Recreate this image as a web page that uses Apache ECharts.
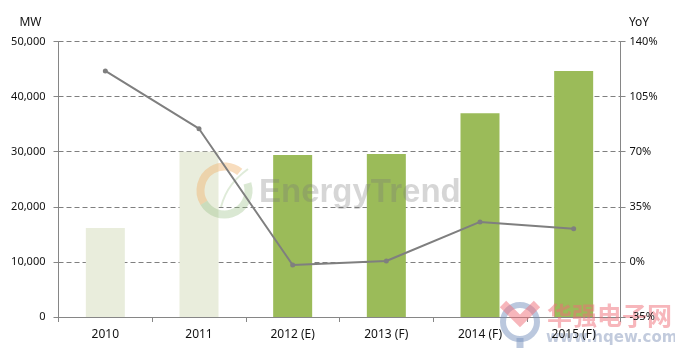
<!DOCTYPE html>
<html lang="en">
<head>
    <meta charset="utf-8">
    <title>EnergyTrend MW YoY</title>
    <script src="https://cdn.jsdelivr.net/npm/echarts@6/dist/echarts.min.js"></script>
    <style type="text/css">
        html, body { height: 100%; }
        body { margin: 0; background: #fff; }
    </style>
</head>
<body>
    <div id="main" style="width:675px;height:353px;"></div>
    <script type="text/javascript">
        const categories = ['2010', '2011', '2012 (E)', '2013 (F)', '2014 (F)', '2015 (F)'];
        const capacityMW = [16150, 30000, 29400, 29600, 37000, 44650];
        const yoyPercent = [121.3, 84.6, -2, 0.6, 25.4, 21];
        const paleYears = ['2010', '2011'];
        const leftTicks = [0, 10000, 20000, 30000, 40000, 50000];
        const rightTicks = [-35, 0, 35, 70, 105, 140];

        const fontFamily = '"Noto Sans", sans-serif';
        const axisGrey = '#868686';

        const myChart = echarts.init(document.getElementById('main'));

        const option = {
            animation: false,
            backgroundColor: '#fff',
            textStyle: { fontFamily: fontFamily },
            grid: { left: 58.5, right: 54.5, top: 41.5, bottom: 36 },
            xAxis: [
                {
                    type: 'category',
                    data: categories,
                    boundaryGap: true,
                    axisLine: { lineStyle: { color: axisGrey, width: 1 } },
                    axisTick: { show: true, alignWithLabel: false, length: 5, lineStyle: { color: axisGrey } },
                    axisLabel: { show: false }
                },
                // labels only, so they sit above the watermark
                {
                    type: 'category',
                    position: 'bottom',
                    data: categories,
                    z: 7,
                    axisLine: { show: false },
                    axisTick: { show: false },
                    axisLabel: { color: '#111', fontSize: 12, margin: 12, interval: 0 }
                }
            ],
            yAxis: [
                {
                    type: 'value',
                    min: 0,
                    max: 50000,
                    interval: 10000,
                    name: 'MW',
                    nameLocation: 'end',
                    nameGap: 13,
                    nameTextStyle: { color: '#111', fontSize: 12, padding: [0, 56, 0, 0] },
                    axisLine: { show: true, onZero: false, lineStyle: { color: axisGrey } },
                    axisTick: { show: true, length: 5, lineStyle: { color: axisGrey } },
                    axisLabel: {
                        color: '#111',
                        fontSize: 11,
                        margin: 13,
                        formatter: function (v) { return leftTicks.includes(v) ? v.toLocaleString('en-US') : ''; }
                    },
                    splitLine: { show: true, lineStyle: { color: '#7f7f7f', type: [5, 3], width: 1 } }
                },
                {
                    type: 'value',
                    min: -35,
                    max: 140,
                    interval: 35,
                    z: 7,
                    name: 'YoY',
                    nameLocation: 'end',
                    nameGap: 13,
                    nameTextStyle: { color: '#111', fontSize: 12, padding: [0, 0, 0, 37] },
                    axisLine: { show: true, onZero: false, lineStyle: { color: axisGrey } },
                    axisTick: { show: true, length: 5, lineStyle: { color: axisGrey } },
                    axisLabel: {
                        color: '#111',
                        fontSize: 11,
                        margin: 9,
                        formatter: function (v) { return rightTicks.includes(v) ? v + '%' : ''; }
                    },
                    splitLine: { show: false }
                }
            ],
            series: [
                {
                    name: 'MW',
                    type: 'bar',
                    xAxisIndex: 0,
                    yAxisIndex: 0,
                    barWidth: 39,
                    z: 3,
                    data: capacityMW.map(function (v, i) {
                        return {
                            value: v,
                            itemStyle: { color: paleYears.includes(categories[i]) ? '#e9eddc' : '#9bbb59' }
                        };
                    })
                },
                {
                    name: 'YoY',
                    type: 'line',
                    xAxisIndex: 0,
                    yAxisIndex: 1,
                    z: 5,
                    symbol: 'circle',
                    symbolSize: 5,
                    lineStyle: { color: '#7f7f7f', width: 2 },
                    itemStyle: { color: '#7f7f7f' },
                    data: yoyPercent
                }
            ],
            graphic: [
                // EnergyTrend watermark
                { type: 'arc', z: 4, shape: { cx: 224.5, cy: 190.5, r: 24, startAngle: 2.6, endAngle: 5.4 }, style: { stroke: 'rgba(240,180,110,0.45)', lineWidth: 8, fill: null } },
                { type: 'arc', z: 4, shape: { cx: 224.5, cy: 190.5, r: 24, startAngle: -0.3, endAngle: 2.6 }, style: { stroke: 'rgba(150,190,130,0.35)', lineWidth: 8, fill: null } },
                { type: 'bezierCurve', z: 4, shape: { x1: 221, y1: 207, x2: 248, y2: 169, cpx1: 226, cpy1: 188, cpx2: 236, cpy2: 178 }, style: { stroke: 'rgba(150,190,130,0.3)', lineWidth: 2, fill: null } },
                { type: 'text', z: 4, style: { x: 259, y: 176, text: 'EnergyTrend', fill: 'rgba(120,120,120,0.3)', font: 'bold 33px "Liberation Sans"' } },
                // hqew watermark
                { type: 'circle', z: 6, shape: { cx: 520, cy: 322, r: 17 }, style: { stroke: 'rgba(120,145,190,0.5)', lineWidth: 6, fill: null } },
                { type: 'line', z: 6, shape: { x1: 520, y1: 338, x2: 520, y2: 348 }, style: { stroke: 'rgba(120,145,190,0.5)', lineWidth: 7 } },
                { type: 'polyline', z: 6, shape: { points: [[503, 304], [520, 321], [537, 304]] }, style: { stroke: 'rgba(240,110,120,0.5)', lineWidth: 9, fill: null } },
                { type: 'text', z: 6, style: { x: 547, y: 303, text: '华强电子网', fill: 'rgba(240,110,120,0.5)', font: 'bold 25px "Noto Sans CJK SC"' } },
                { type: 'text', z: 6, style: { x: 546, y: 331, text: 'www.hqew.com', fill: 'rgba(120,140,180,0.45)', font: 'bold 15px "DejaVu Sans"' } }
            ]
        };

        option && myChart.setOption(option);
    </script>
</body>
</html>
